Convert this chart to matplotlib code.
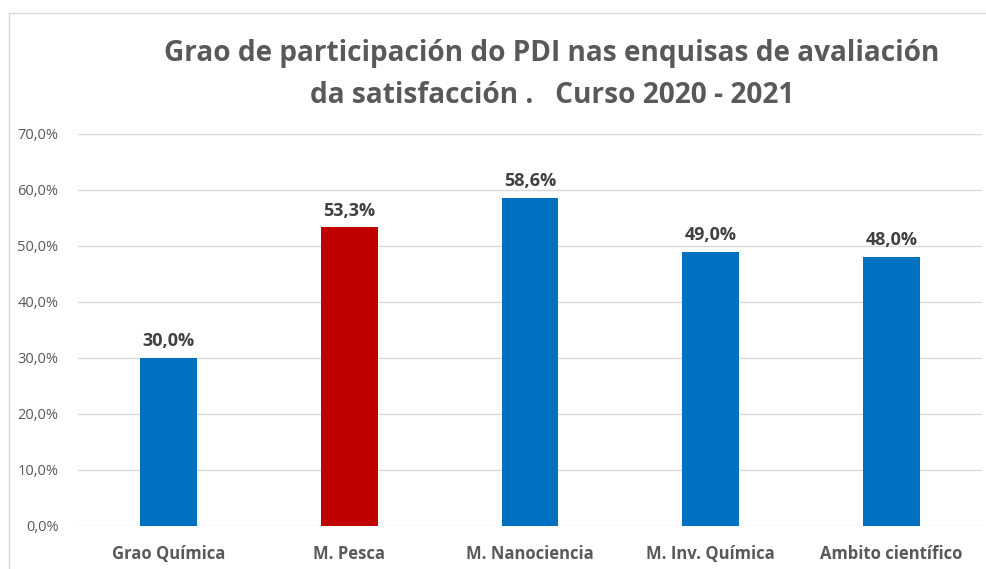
import numpy as np
import matplotlib.pyplot as plt
from matplotlib.lines import Line2D
from matplotlib.ticker import FuncFormatter

categories = ["Grao Química", "M. Pesca", "M. Nanociencia", "M. Inv. Química", "Ambito científico"]
values = [0.300, 0.533, 0.586, 0.490, 0.480]
colors = ["#0070C0", "#C00000", "#0070C0", "#0070C0", "#0070C0"]
yticks = np.arange(0, 0.71, 0.1)

plt.rcParams['font.family'] = ['Open Sans', 'DejaVu Sans']
gray = "#595959"

fig = plt.figure(figsize=(9.87, 5.69), dpi=100)
ax = fig.add_axes([0.079, 0.0756, 0.916, 0.689])

x = np.arange(len(categories))
bars = ax.bar(x, values, width=0.315, color=colors, zorder=3)

# data labels
for xi, v in zip(x, values):
    ax.text(xi, v + 0.014, f"{v*100:.1f}%".replace(".", ","), ha="center", va="bottom",
            fontsize=13, fontweight="bold", color="#404040")

ax.set_xlim(-0.5, len(categories) - 0.5)
ax.set_ylim(0, 0.7)
ax.set_yticks(yticks)
ax.yaxis.set_major_formatter(FuncFormatter(lambda v, p: f"{v*100:.1f}%".replace(".", ",")))
ax.set_xticks(x)
ax.set_xticklabels(categories, fontweight="bold", fontsize=12, color=gray)
ax.tick_params(axis="y", labelsize=10.5, colors=gray, length=0, pad=14)
ax.tick_params(axis="x", length=0, pad=14)
ax.grid(axis="y", color="#D9D9D9", linewidth=1, zorder=0)
for s in ax.spines.values():
    s.set_visible(False)

fig.text(0.559, 0.869, "Grao de participación do PDI nas enquisas de avaliación\nda satisfacción .   Curso 2020 - 2021",
         ha="center", va="center", fontsize=20.2, fontweight="bold", color=gray, linespacing=1.62)

# chart area border (top and left)
fig.add_artist(Line2D([9/987, 1], [1 - 13/569, 1 - 13/569], color="#D9D9D9", lw=1))
fig.add_artist(Line2D([9/987, 9/987], [0, 1 - 13/569], color="#D9D9D9", lw=1))

fig.savefig("out.png", dpi=100)
